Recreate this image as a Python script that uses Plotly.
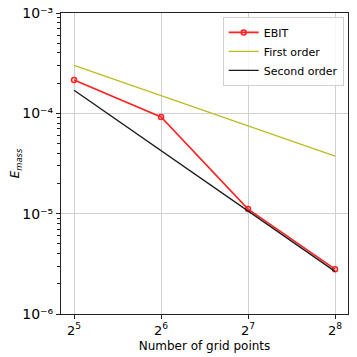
import plotly.graph_objects as go

grid_points = [32, 64, 128, 256]
ebit = [2.15e-4, 9.2e-5, 1.11e-5, 2.8e-6]
first_order = [3.0e-4, 1.5e-4, 7.5e-5, 3.75e-5]
second_order = [1.7e-4, 4.25e-5, 1.06e-5, 2.66e-6]

x_ticks = [32, 64, 128, 256]
x_labels = ["2<sup>5</sup>", "2<sup>6</sup>", "2<sup>7</sup>", "2<sup>8</sup>"]
y_ticks = [1e-6, 1e-5, 1e-4, 1e-3]
y_labels = ["10\u207b\u2076", "10\u207b\u2075", "10\u207b\u2074", "10\u207b\u00b3"]

fig = go.Figure()
fig.add_trace(go.Scatter(x=grid_points, y=ebit, name="EBIT", mode="lines+markers",
                         line=dict(color="#ff2020", width=1.6),
                         marker=dict(symbol="circle-open", size=5, color="#ff2020", line=dict(width=1.5))))
fig.add_trace(go.Scatter(x=grid_points, y=first_order, name="First order", mode="lines",
                         line=dict(color="#bcbd22", width=1.4)))
fig.add_trace(go.Scatter(x=grid_points, y=second_order, name="Second order", mode="lines",
                         line=dict(color="#1a1a1a", width=1.4)))

axis_common = dict(showline=True, linecolor="#222", linewidth=1.2, mirror=True,
                   showgrid=True, gridcolor="#d0d0d0", gridwidth=1, ticks="outside",
                   ticklen=4, tickcolor="#222", zeroline=False, ticklabeloverflow="allow",
                   automargin=False)

# the page body has an 8px margin, so the figure is made smaller to compensate
fig.update_layout(
    width=349, height=349,
    margin=dict(l=53, r=9, t=5, b=43),
    paper_bgcolor="white", plot_bgcolor="white",
    font=dict(family="DejaVu Sans", size=12, color="black"),
    showlegend=True,
    legend=dict(x=0.985, y=0.987, xanchor="right", yanchor="top",
                bordercolor="#d0d0d0", borderwidth=1, bgcolor="rgba(255,255,255,0.8)",
                font=dict(size=11), tracegroupgap=0),
)
fig.update_xaxes(type="log", range=[1.46, 2.453], tickvals=x_ticks, ticktext=x_labels,
                 tickfont=dict(size=13),
                 title=dict(text="Number of grid points", font=dict(size=12), standoff=4),
                 **axis_common)
fig.update_yaxes(type="log", range=[-6, -3], tickvals=y_ticks, ticktext=y_labels,
                 tickfont=dict(size=14),
                 title=dict(text="<i>E</i><sub><i>mass</i></sub>", font=dict(size=12), standoff=2),
                 minor=dict(ticks="outside", ticklen=2.5, tickcolor="#222", tickwidth=1,
                            showgrid=False, dtick="D1"),
                 **axis_common)

fig.write_html("out.html")
